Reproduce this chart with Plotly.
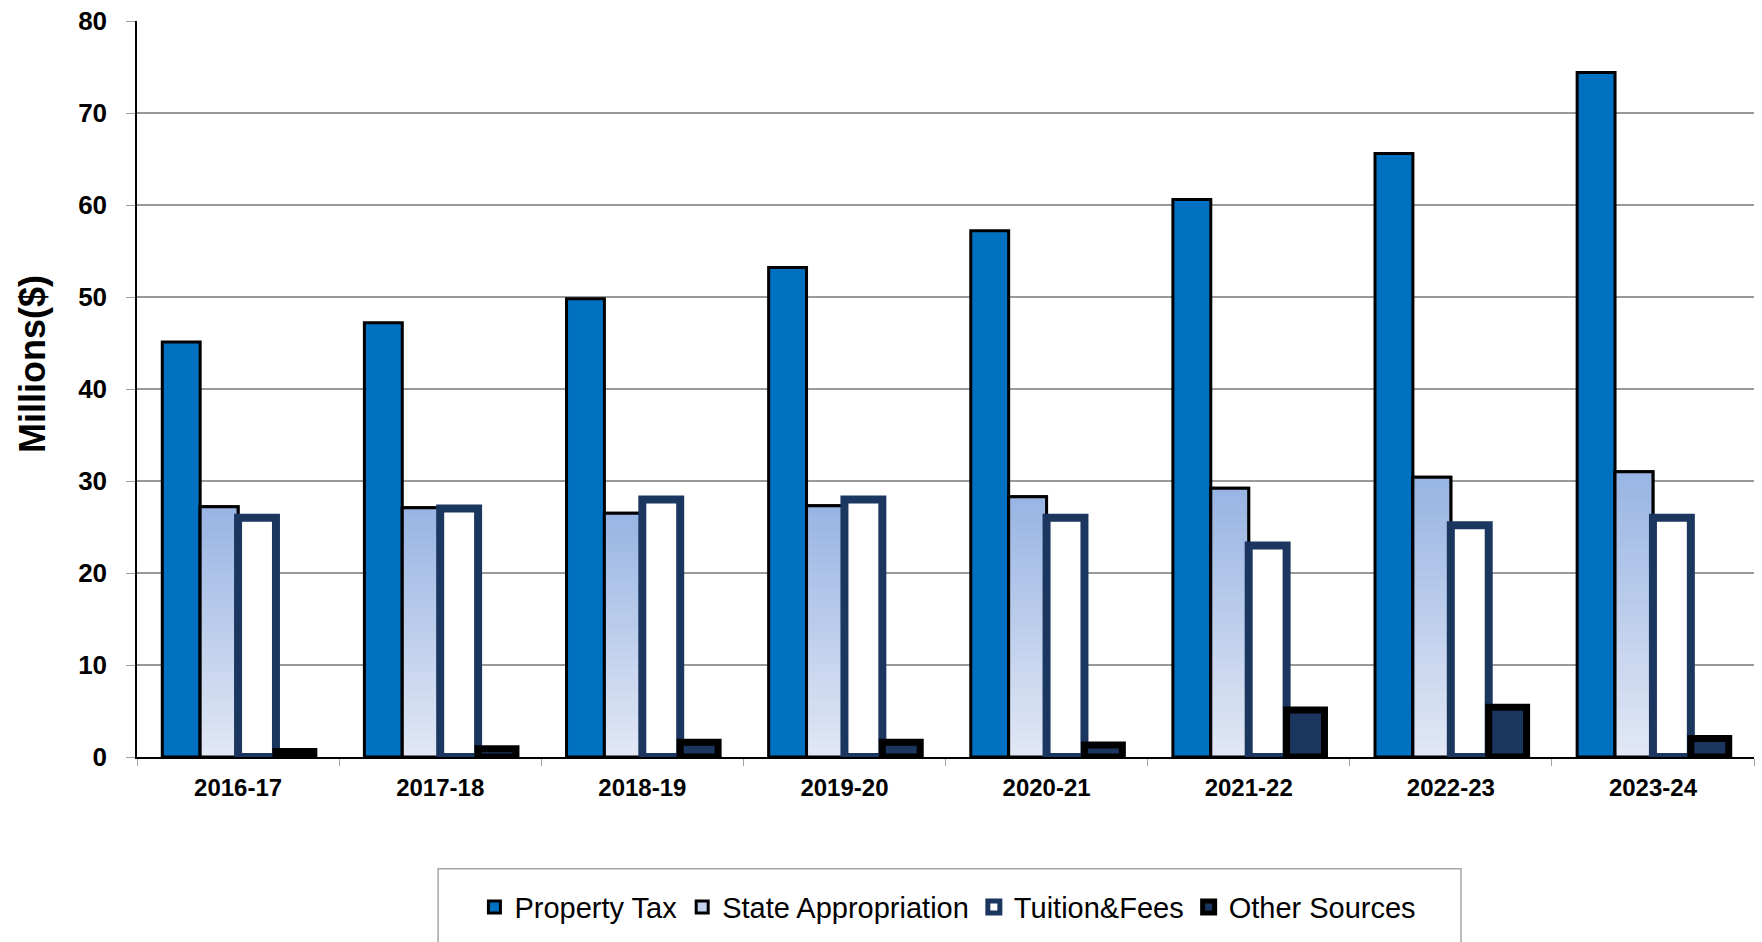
import plotly.graph_objects as go

years = ["2016-17", "2017-18", "2018-19", "2019-20", "2020-21", "2021-22", "2022-23", "2023-24"]
property_tax = [45.1, 47.2, 49.8, 53.2, 57.2, 60.6, 65.6, 74.4]
state_appropriation = [27.2, 27.1, 26.5, 27.3, 28.3, 29.2, 30.4, 31.0]
tuition_fees = [26.0, 27.0, 28.0, 28.0, 26.0, 23.0, 25.2, 26.0]
other_sources = [0.6, 0.9, 1.6, 1.6, 1.3, 5.1, 5.4, 2.0]

FONT = "Arial, Liberation Sans, sans-serif"
N_GRAD = 30
TOP_RGB = (0x98, 0xB4, 0xE3)
BOT_RGB = (0xE2, 0xE8, 0xF5)

def mix(f):
    # f=1 -> top colour, f=0 -> bottom colour
    r = [round(BOT_RGB[i] + (TOP_RGB[i] - BOT_RGB[i]) * f) for i in range(3)]
    return "rgb(%d,%d,%d)" % tuple(r)

fig = go.Figure()

fig.add_trace(go.Bar(
    x=years, y=property_tax, name="Property Tax", offsetgroup="pt",
    marker=dict(color="#0070C0", line=dict(color="black", width=3)),
))

# legend entry for state appropriation (covered by gradient layers)
fig.add_trace(go.Bar(
    x=years, y=state_appropriation, name="State Appropriation", offsetgroup="sa",
    marker=dict(color="#C3D2EE", line=dict(color="black", width=3)),
))
for k in range(N_GRAD):
    frac_hi = (N_GRAD - k) / N_GRAD
    fig.add_trace(go.Bar(
        x=years, y=[v * frac_hi for v in state_appropriation], offsetgroup="sa",
        showlegend=False, hoverinfo="skip",
        marker=dict(color=mix((N_GRAD - k - 0.5) / N_GRAD), line=dict(width=0)),
    ))
fig.add_trace(go.Bar(
    x=years, y=state_appropriation, offsetgroup="sa", showlegend=False,
    marker=dict(color="rgba(0,0,0,0)", line=dict(color="black", width=3)),
))

fig.add_trace(go.Bar(
    x=years, y=tuition_fees, name="Tuition&Fees", offsetgroup="tf",
    marker=dict(color="white", line=dict(color="#1B365F", width=8)),
))
fig.add_trace(go.Bar(
    x=years, y=other_sources, name="Other Sources", offsetgroup="os",
    marker=dict(color="#1B365F", line=dict(color="black", width=7)),
))

fig.update_layout(
    width=1762, height=942,
    barmode="group", bargap=0.25, bargroupgap=0,
    plot_bgcolor="white", paper_bgcolor="white",
    margin=dict(l=137, r=8, t=21, b=185, autoexpand=False),
    font=dict(family=FONT, color="black"),
    showlegend=True,
    legend=dict(
        orientation="h", x=0.5015, xanchor="center", y=-0.204, yanchor="middle",
        font=dict(family=FONT, size=29, color="black"),
        bgcolor="rgba(0,0,0,0)", borderwidth=0,
        traceorder="normal",
    ),
    shapes=[dict(
        type="rect", xref="paper", yref="paper",
        x0=0.1862, x1=0.8188, y0=-0.26, y1=-0.152,
        line=dict(color="#A6A6A6", width=1.5), fillcolor="rgba(0,0,0,0)",
    )],
    annotations=[dict(
        text="<b>Millions($)</b>", textangle=-90,
        xref="paper", yref="paper", x=0, y=0.534,
        xanchor="center", yanchor="middle", xshift=-104, showarrow=False,
        font=dict(family=FONT, size=36, color="black"),
    )],
)

fig.update_xaxes(
    showline=True, linecolor="black", linewidth=1.5,
    ticks="outside", tickson="boundaries", ticklen=7, tickcolor="#A0A0A0",
    tickfont=dict(family=FONT, size=24, color="black", weight="bold"),
    ticklabelstandoff=8, showgrid=False, automargin=False,
)
fig.update_yaxes(
    range=[0, 80], dtick=10, tick0=0,
    showline=True, linecolor="black", linewidth=1.5,
    ticks="outside", ticklen=9, tickcolor="#A0A0A0",
    showgrid=True, gridcolor="#9A9A9A", gridwidth=1.5,
    zeroline=False, automargin=False, ticklabeloverflow="allow",
    tickfont=dict(family=FONT, size=26, color="black", weight="bold"),
    ticklabelstandoff=14,
)

fig.write_html("out.html", config={"displayModeBar": False},
               post_script="document.body.style.margin='0';")
